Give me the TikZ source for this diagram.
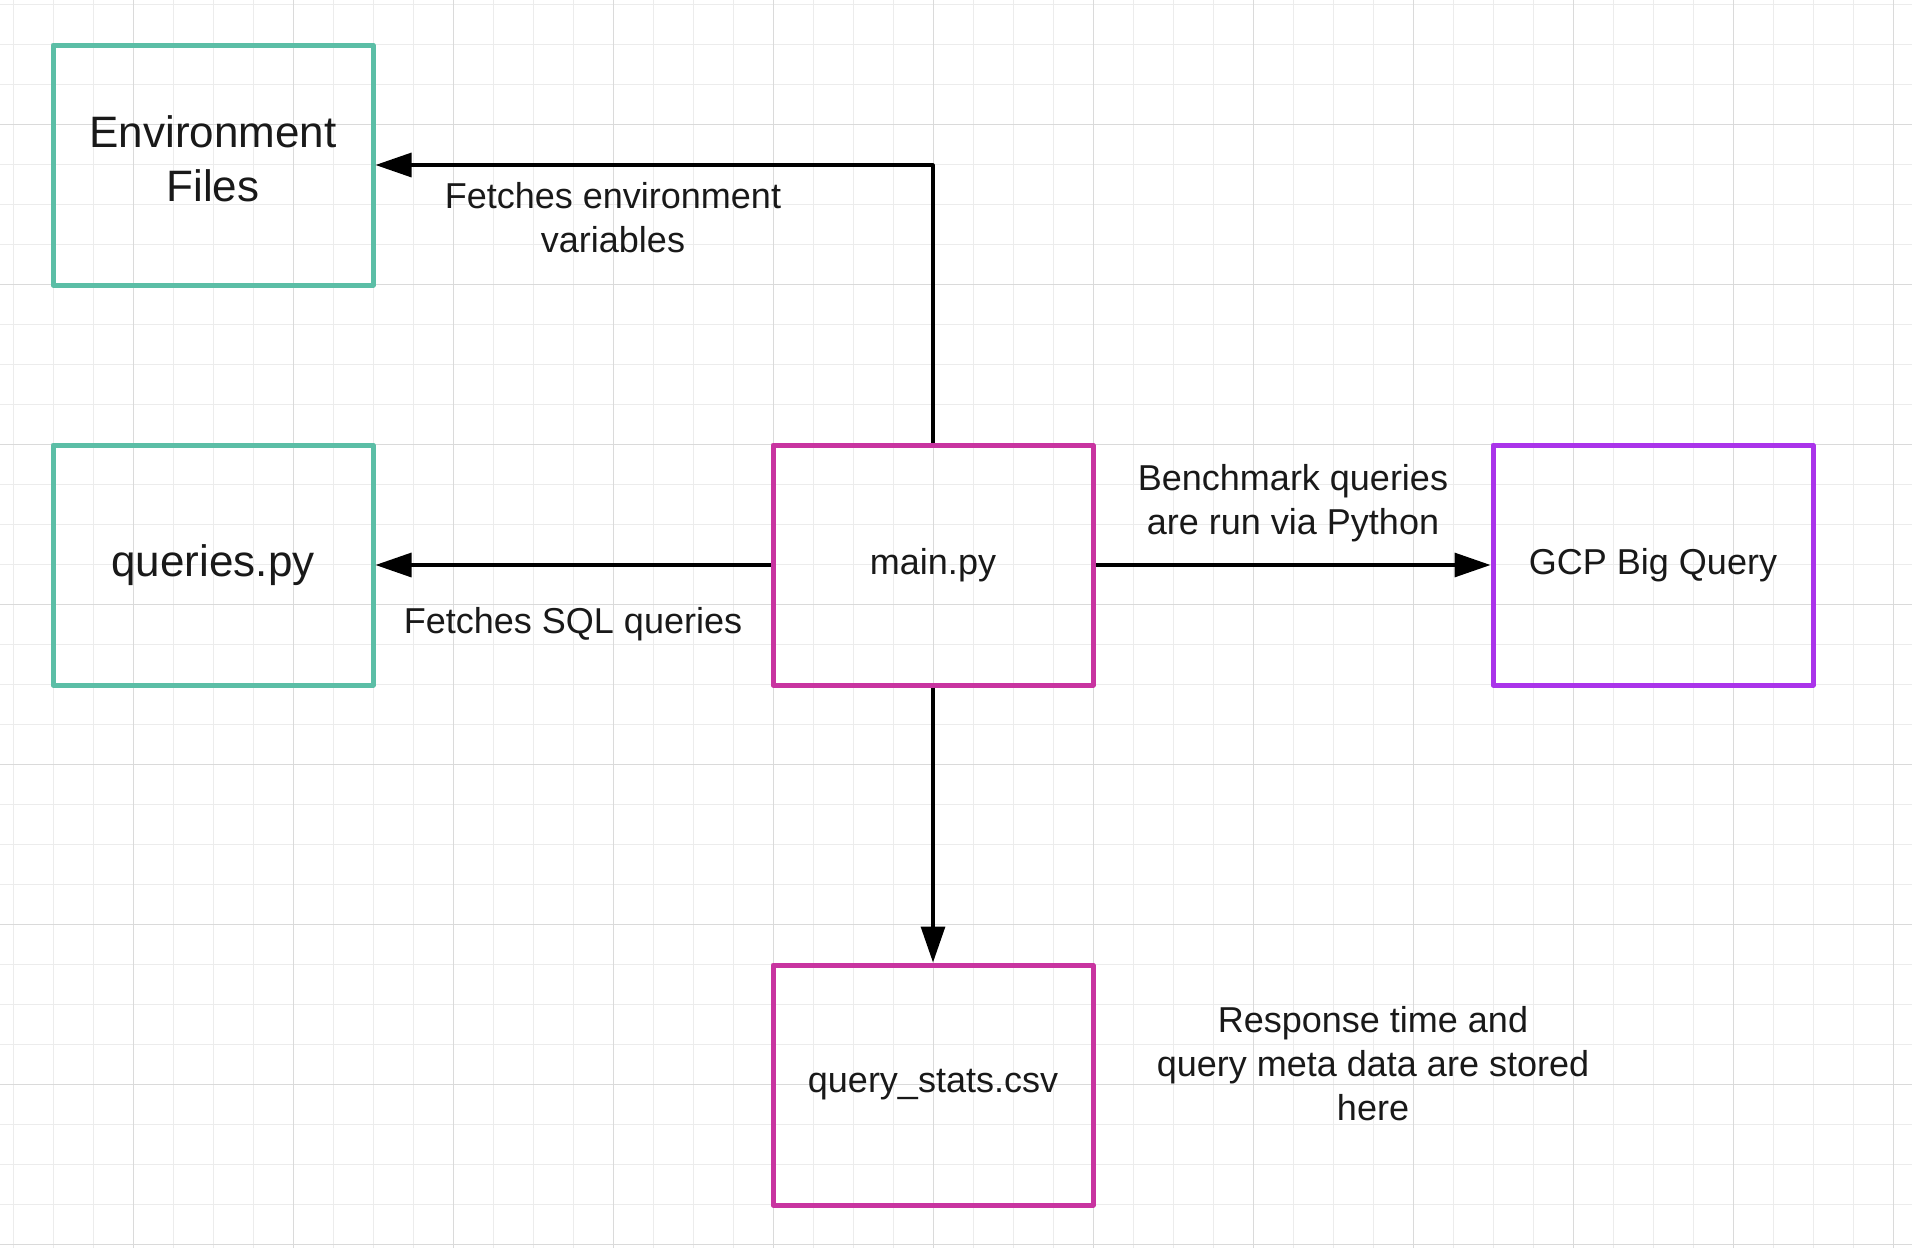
\documentclass[tikz,border=0pt]{standalone}
\usepackage{fontspec}
\setmainfont{Liberation Sans}
\usetikzlibrary{arrows.meta}
\definecolor{envteal}{RGB}{91,190,166}
\definecolor{pymagenta}{RGB}{200,52,160}
\definecolor{gcppurple}{RGB}{170,52,234}
\definecolor{gridminor}{RGB}{236,236,236}
\definecolor{gridmajor}{RGB}{218,218,218}
\begin{document}
\begin{tikzpicture}[x=0.5pt,y=-0.5pt,line join=round,
	box/.style={draw,line width=2.5pt,minimum width=160pt,minimum height=120pt,inner sep=0pt,align=center,text=black!90,font=\fontsize{18}{22}\selectfont},
	bigbox/.style={box,font=\fontsize{22}{27}\selectfont},
	lbl/.style={align=center,inner sep=0pt,text=black!90,font=\fontsize{18}{22}\selectfont},
	conn/.style={-{Triangle[length=18pt,width=12pt]},line width=1.6pt}]
	\def \W{1912}
	\def \H{1248}
	\useasboundingbox (0,0) rectangle (\W,\H);
	\fill[white] (0,0) rectangle (\W,\H);
	% grid
	\foreach \i in {0,...,47} \draw[gridminor,line width=0.5pt] (13.33+40*\i,0)--(13.33+40*\i,\H);
	\foreach \j in {0,...,31} \draw[gridminor,line width=0.5pt] (0,4.33+40*\j)--(\W,4.33+40*\j);
	\foreach \i in {0,...,11} \draw[gridmajor,line width=0.5pt] (133.33+160*\i,0)--(133.33+160*\i,\H);
	\foreach \j in {0,...,7} \draw[gridmajor,line width=0.5pt] (0,124.33+160*\j)--(\W,124.33+160*\j);
	% boxes
	\node[box,draw=envteal,minimum height=120pt] (env) at (213,165) {};
	\node[lbl,font=\fontsize{22}{27}\selectfont] (envtxt) at (213,159) {Environment\\Files};
	\node[bigbox,draw=envteal] (queries) at (213,565) {queries.py};
	\node[box,draw=pymagenta] (main) at (933,565) {main.py};
	\node[box,draw=gcppurple] (gcp) at (1653,565) {GCP Big Query};
	\node[box,draw=pymagenta] (stats) at (933,1085) {query\_stats.csv};
	% connectors
	\draw[conn] (main.north) |- (env.east);
	\draw[conn] (main.west) -- (queries.east);
	\draw[conn] (main.east) -- (gcp.west);
	\draw[conn] (main.south) -- (stats.north);
	% labels
	\node[lbl] (envlbl) at (613,218) {Fetches environment\\variables};
	\node[lbl] (sqllbl) at (573,624) {Fetches SQL queries};
	\node[lbl] (runlbl) at (1293,503) {Benchmark queries\\are run via Python};
	\node[lbl] (statslbl) at (1373,1064) {Response time and\\query meta data are stored\\here};
\end{tikzpicture}
\end{document}
